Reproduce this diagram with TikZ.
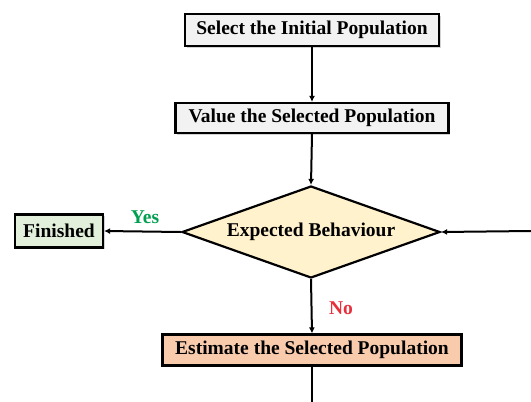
\documentclass[tikz,border=0pt]{standalone}
\usepackage{fontspec}
\setmainfont{Liberation Serif}
\usetikzlibrary{shapes.geometric,arrows.meta,shadows}
\definecolor{boxgray}{HTML}{F2F2F2}
\definecolor{boxgreen}{HTML}{E2EFDA}
\definecolor{boxyellow}{HTML}{FFF2CC}
\definecolor{boxsalmon}{HTML}{F8CBAD}
\definecolor{yesgreen}{HTML}{00A050}
\definecolor{nored}{HTML}{E8303A}
\begin{document}
\begin{tikzpicture}[x=1pt,y=-1pt,
  every node/.style={font=\bfseries\fontsize{19.5}{21}\selectfont},
  boxstyle/.style={draw=black,line width=2.2pt,rectangle,inner sep=0pt,
    drop shadow={opacity=0.35,shadow xshift=1.5pt,shadow yshift=-1.5pt}},
  decision/.style={draw=black,line width=2.2pt,diamond,aspect=2.8,inner sep=0pt,fill=boxyellow},
  conn/.style={line width=2pt,-{Latex[length=6pt,width=6pt]}}]
\useasboundingbox (0,0) rectangle (531,402);
\node[boxstyle,fill=boxgray,minimum width=254pt,minimum height=32pt] (b1) at (312,30) {Select the Initial Population};
\node[boxstyle,fill=boxgray,minimum width=273pt,minimum height=30pt] (b2) at (312,118) {Value the Selected Population};
\node[decision,minimum width=258pt,minimum height=92pt] (d) at (311,232) {Expected Behaviour};
\node[boxstyle,fill=boxgreen,minimum width=88pt,minimum height=33pt] (f) at (59,231) {Finished};
\node[boxstyle,fill=boxsalmon,minimum width=299pt,minimum height=31pt] (b4) at (312,350) {Estimate the Selected Population};
\coordinate (rin) at (531,231);
\coordinate (bot) at (312,402);
\draw[conn] (b1.south) -- (b2.north);
\draw[conn] (b2.south) -- (d.north);
\draw[conn] (d.west) -- (f.east);
\draw[conn] (rin) -- (d.east);
\draw[conn] (d.south) -- (b4.north);
\draw[line width=2pt] (b4.south) -- (bot);
\node[text=yesgreen] (yes) at (145,217) {Yes};
\node[text=nored] (no) at (341,308) {No};
\end{tikzpicture}
\end{document}
